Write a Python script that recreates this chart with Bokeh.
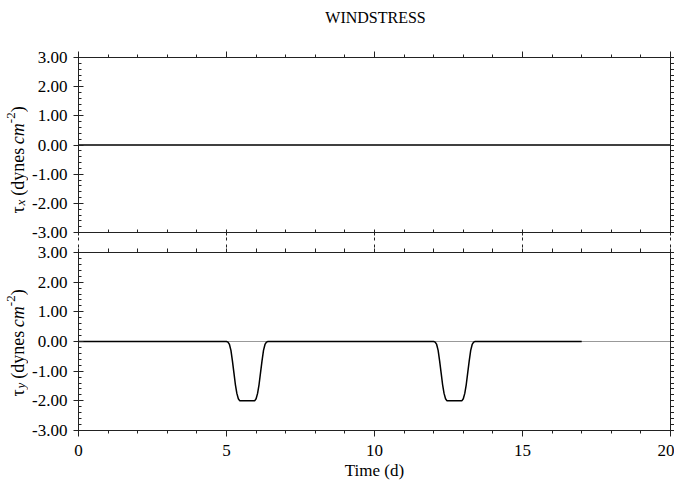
from bokeh.plotting import figure
from bokeh.models import (LinearAxis, FixedTicker, NumeralTickFormatter, Span, Range1d,
                          CustomLabelingPolicy)
from bokeh.layouts import column, row
from bokeh.embed import file_html
from bokeh.resources import INLINE
from bokeh.core.properties import value

# ---------------- data ----------------
title_text = "WINDSTRESS"
x_label = "Time (d)"
x_ticks = [0, 5, 10, 15, 20]
x_minor = list(range(0, 21))
y_ticks = [-3, -2, -1, 0, 1, 2, 3]
y_minor = [round(-3 + 0.2 * i, 1) for i in range(31)]

time_x = [0.0, 20.0]
tau_x = [0.0, 0.0]

time_y = [0.0, 5.0, 5.05, 5.10, 5.15, 5.20, 5.25, 5.30, 5.35, 5.40, 5.45,
          5.95, 6.00, 6.05, 6.10, 6.15, 6.20, 6.25, 6.30, 6.35, 6.40,
          12.0, 12.05, 12.10, 12.15, 12.20, 12.25, 12.30, 12.35, 12.40, 12.45,
          12.95, 13.00, 13.05, 13.10, 13.15, 13.20, 13.25, 13.30, 13.35, 13.40,
          17.0]
tau_y = [0.0, 0.0, -0.02, -0.1, -0.3, -0.65, -1.05, -1.45, -1.75, -1.93, -2.0,
         -2.0, -1.93, -1.75, -1.45, -1.05, -0.65, -0.3, -0.1, -0.02, 0.0,
         0.0, -0.02, -0.1, -0.3, -0.65, -1.05, -1.45, -1.75, -1.93, -2.0,
         -2.0, -1.93, -1.75, -1.45, -1.05, -0.65, -0.3, -0.1, -0.02, 0.0,
         0.0]

FONT = "Liberation Serif"
TOTAL_W, TOTAL_H = 674, 482
TITLE_H = 34       # strip holding the title
LABW = 28          # strip holding the rotated y labels
W = TOTAL_W - LABW
LEFT = 78 - LABW
RIGHT = 3

hide_labels = CustomLabelingPolicy(
    code="const all = Array.from(indices); for (const i of all) { indices.unset(i) } return indices")


def blank_fig(width, height):
    f = figure(width=width, height=height, x_range=Range1d(0, width), y_range=Range1d(0, height),
               output_backend="svg", toolbar_location=None, min_border=0,
               x_axis_location=None, y_axis_location=None)
    f.grid.visible = False
    f.outline_line_color = None
    f.background_fill_color = "white"
    f.border_fill_color = "white"
    return f


def make_fig(height, top_b, bottom_b):
    p = figure(width=W, height=height, x_range=Range1d(0, 20), y_range=Range1d(-3, 3),
               output_backend="svg", toolbar_location=None,
               min_border_left=LEFT, min_border_right=RIGHT,
               min_border_top=top_b, min_border_bottom=bottom_b,
               x_axis_location=None, y_axis_location=None)
    p.grid.visible = False
    p.outline_line_color = None
    p.background_fill_color = "white"
    p.border_fill_color = "white"
    return p


def add_axis(p, side, labels, maj_out, maj_in, min_out, min_in, dash="solid",
             axis_label=None, standoff=6):
    if side in ("left", "right"):
        ticker = FixedTicker(ticks=y_ticks, minor_ticks=y_minor)
        fmt = NumeralTickFormatter(format="0.00")
    else:
        ticker = FixedTicker(ticks=x_ticks, minor_ticks=x_minor)
        fmt = NumeralTickFormatter(format="0")
    ax = LinearAxis(ticker=ticker, formatter=fmt)
    ax.axis_line_color = "#222222"
    ax.axis_line_width = 1
    ax.major_tick_line_color = "#222222"
    ax.minor_tick_line_color = "#222222"
    ax.major_tick_line_dash = dash
    ax.major_tick_out = maj_out
    ax.major_tick_in = maj_in
    ax.minor_tick_out = min_out
    ax.minor_tick_in = min_in
    ax.major_label_text_font = FONT
    ax.major_label_text_color = "black"
    ax.axis_label_standoff = 0
    if labels:
        ax.major_label_text_font_size = "17px"
        ax.major_label_standoff = standoff
    else:
        ax.major_label_text_font_size = "0px"
        ax.major_label_standoff = 0
        ax.major_label_policy = hide_labels
    if axis_label:
        ax.axis_label = axis_label
        ax.axis_label_text_font = FONT
        ax.axis_label_text_font_size = "17px"
        ax.axis_label_text_font_style = "normal"
        ax.axis_label_text_color = "black"
    p.add_layout(ax, side)
    return ax


# ---------------- title strip ----------------
tfig = blank_fig(TOTAL_W, TITLE_H)
tfig.text(x=[375], y=[TITLE_H - 17], text=[title_text], text_align="center",
          text_baseline="middle", text_font=value(FONT), text_font_size=value("16px"),
          text_color="black")

# ---------------- label strip (rotated y labels with sub/superscripts) ----------------
LH = TOTAL_H - TITLE_H
lab = blank_fig(LABW, LH)

EM = {"τ": 0.45, "x": 0.444, "y": 0.444, " ": 0.25, "(": 0.333, ")": 0.333, "d": 0.5,
      "n": 0.5, "e": 0.444, "s": 0.389, "c": 0.444, "m": 0.722, "-": 0.333, "2": 0.5}


def add_ylabel(sub, canvas_bottom, xb=17):
    # (text, size, style, baseline shift, gap after in px)
    pieces = [("τ", 18, "normal", 0, 0), (sub, 13, "italic", 3, 4), ("(dynes", 18, "normal", 0, 4.5),
              ("cm", 18, "italic", 0, 0), ("-2", 13, "normal", -7, 0), (")", 18, "normal", 0, 0)]
    y = TOTAL_H - canvas_bottom
    for txt, size, style, shift, gap in pieces:
        lab.text(x=[xb + shift], y=[y], text=[txt], angle=1.5707963,
                 text_align="left", text_baseline="alphabetic",
                 text_font=value(FONT), text_font_size=value(f"{size}px"),
                 text_font_style=style, text_color="black")
        y += sum(EM.get(ch, 0.5) for ch in txt) * size + gap


add_ylabel("x", 213)
add_ylabel("y", 396)

# ---------------- top panel ----------------
p1 = make_fig(242 - TITLE_H, 57 - TITLE_H, 10)
add_axis(p1, "left", True, 5, 5, 0, 3)
add_axis(p1, "right", False, 4, 0, 4, 0)
add_axis(p1, "above", False, 6, 0, 3, 0)
add_axis(p1, "below", False, 8, 0, 0, 3, dash="3 2")
p1.line(time_x, tau_x, line_color="black", line_width=1.5)

# ---------------- bottom panel ----------------
p2 = make_fig(240, 10, 52)
add_axis(p2, "left", True, 5, 5, 0, 3)
add_axis(p2, "right", False, 4, 0, 4, 0)
add_axis(p2, "above", False, 8, 0, 4, 0, dash="3 2")
xa = add_axis(p2, "below", True, 6, 0, 3, 0, axis_label=x_label, standoff=8)
xa.axis_label_standoff = 2
p2.add_layout(Span(location=0, dimension="width", line_color="#999999", line_width=1,
                   level="underlay"))
p2.line(time_y, tau_y, line_color="black", line_width=1.5)

layout = column(tfig, row(lab, column(p1, p2, spacing=0), spacing=0), spacing=0)
open("out.html", "w").write(file_html(layout, INLINE))
